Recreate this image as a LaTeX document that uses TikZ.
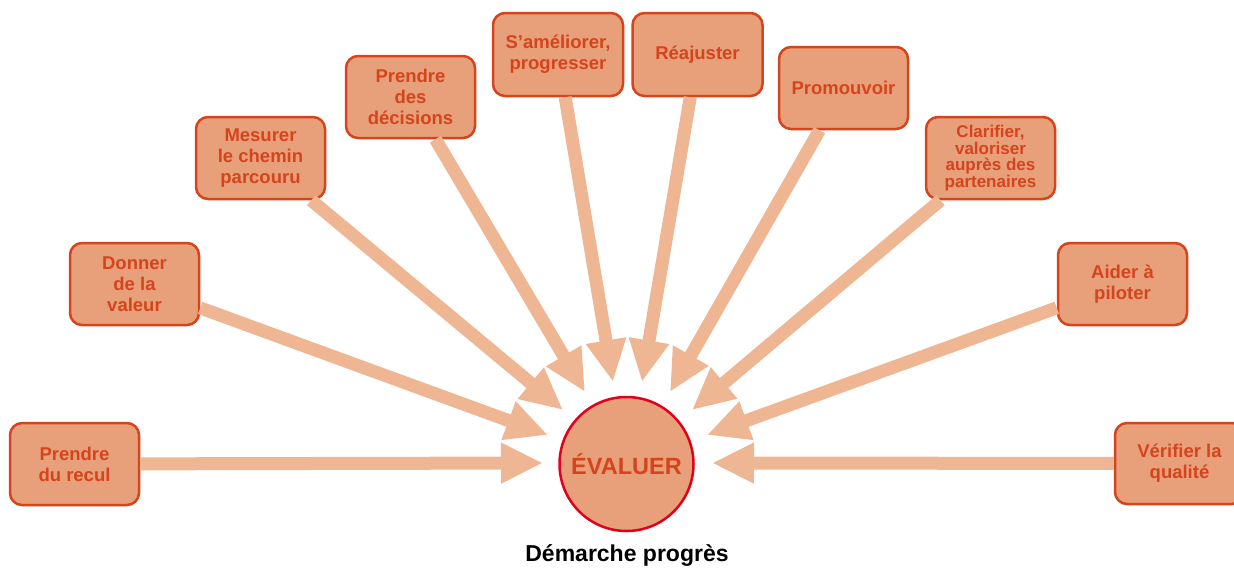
\documentclass[tikz,border=0pt]{standalone}
\usepackage{fontspec}
\setmainfont{Liberation Sans}
\usetikzlibrary{arrows.meta}
\definecolor{boxfill}{HTML}{E8A07A}
\definecolor{boxline}{HTML}{D5441C}
\definecolor{arrowcol}{HTML}{EFB693}
\definecolor{circline}{HTML}{E2001A}
\tikzset{
  stepbox/.style={draw=boxline, line width=2.5pt, fill=boxfill, rounded corners=12pt,
    minimum width=129pt, minimum height=82pt, inner sep=0pt, align=center,
    text=boxline, font=\fontsize{18.5pt}{21pt}\selectfont\bfseries},
  smallbox/.style={stepbox, font=\fontsize{17pt}{16.5pt}\selectfont\bfseries},
  bigarrow/.style={draw=arrowcol, line width=13pt,
    -{Triangle[length=42pt,width=38pt]}, fill=arrowcol},
}
\begin{document}
\begin{tikzpicture}[x=1pt,y=-1pt]
\useasboundingbox (0,0) rectangle (1234,568);
% tips
\coordinate (t1) at (543,463);
\coordinate (t2) at (548,435);
\coordinate (t3) at (563,410);
\coordinate (t4) at (585,392);
\coordinate (t5) at (613,382);
\coordinate (t6) at (642,382);
\coordinate (t7) at (670,392);
\coordinate (t8) at (692,410);
\coordinate (t9) at (707,435);
\coordinate (t10) at (712,463);
% boxes
\node[stepbox] (b1) at (74.5,464) {Prendre\\du recul};
\node[stepbox] (b2) at (134.5,284) {Donner\\de la\\valeur};
\node[stepbox] (b3) at (260.5,158) {Mesurer\\le chemin\\parcouru};
\node[stepbox] (b4) at (410.5,97) {Prendre\\des\\décisions};
\node[stepbox, minimum width=130pt, minimum height=83pt] (b5) at (558,54.5) {\raisebox{-3pt}{\begin{tabular}{@{}c@{}}S’améliorer,\\[0pt]progresser\end{tabular}}};
\node[stepbox, minimum width=130pt, minimum height=83pt] (b6) at (697.5,54.5) {Réajuster};
\node[stepbox] (b7) at (843.5,88) {Promouvoir};
\node[smallbox] (b8) at (990.5,158) {Clarifier,\\valoriser\\auprès des\\partenaires};
\node[stepbox] (b9) at (1122.5,284) {Aider à\\piloter};
\node[stepbox, minimum height=81pt] (b10) at (1179.5,463.5) {Vérifier la\\qualité};
% arrows
\foreach \i in {1,...,10} {
  \draw[bigarrow] (b\i) -- (t\i);
}
% centre
\node[circle, draw=circline, line width=2.5pt, fill=boxfill, minimum size=134pt,
  inner sep=0pt, text=boxline, font=\fontsize{23.5pt}{26pt}\selectfont\bfseries] (ev) at (626.5,464) {ÉVALUER};
\node[font=\fontsize{23pt}{26pt}\selectfont\bfseries, text=black] (cap) at (627,555) {Démarche progrès};
\end{tikzpicture}
\end{document}
